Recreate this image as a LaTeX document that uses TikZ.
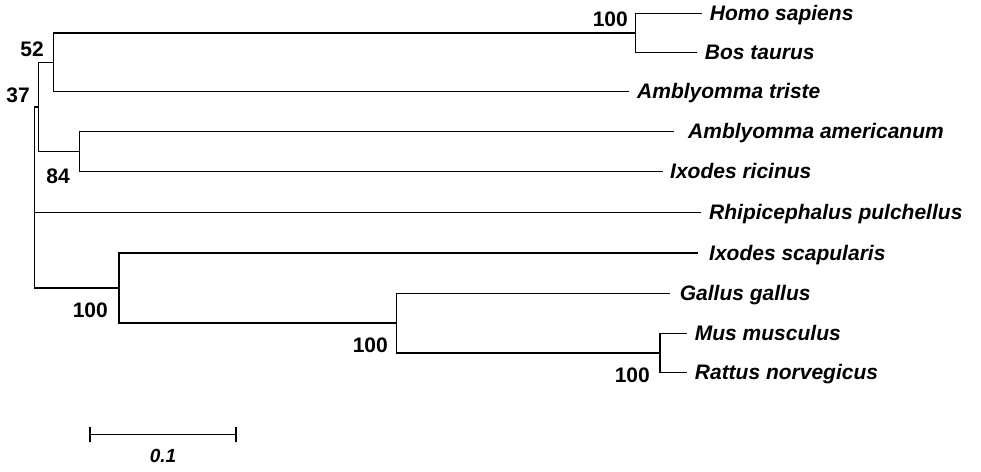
\documentclass[tikz,border=0pt]{standalone}
\usepackage{fontspec}
\setmainfont{Liberation Sans}
\usetikzlibrary{positioning}

\tikzset{
  branch/.style={line width=1.4pt, line cap=rect},
  taxon/.style={anchor=base west, inner sep=0pt, font=\fontsize{21}{24}\selectfont\bfseries\itshape},
  boot/.style={anchor=base east, inner sep=0pt, font=\fontsize{21}{24}\selectfont\bfseries},
}

\begin{document}
\begin{tikzpicture}[x=1pt,y=-1pt]
  \useasboundingbox (0,0) rectangle (981,471);

  % leaf tips
  \coordinate (homo) at (701.7,13.3);
  \coordinate (bos) at (696.7,52.3);
  \coordinate (triste) at (628,91.7);
  \coordinate (americanum) at (673,131.7);
  \coordinate (ricinus) at (662,171.7);
  \coordinate (rhipi) at (700,212.7);
  \coordinate (scapularis) at (697,253);
  \coordinate (gallus) at (669.6,293.3);
  \coordinate (mus) at (686.7,333.3);
  \coordinate (rattus) at (686.7,372.3);

  % inner nodes
  \coordinate (n1) at (635.7,32.8);
  \coordinate (n2) at (53.3,62.3);
  \coordinate (n3) at (79.3,151.7);
  \coordinate (n4) at (38.3,107);
  \coordinate (n5) at (660,352.8);
  \coordinate (n6) at (396.7,323);
  \coordinate (n7) at (119,288);
  \coordinate (root) at (34.5,200);

  % branches
  \draw[branch] (n1) |- (homo) (n1) |- (bos);
  \draw[branch] (n2) |- (n1) (n2) |- (triste);
  \draw[branch] (n3) |- (americanum) (n3) |- (ricinus);
  \draw[branch] (n4) |- (n2) (n4) |- (n3);
  \draw[branch] (n5) |- (mus) (n5) |- (rattus);
  \draw[branch] (n6) |- (gallus) (n6) |- (n5);
  \draw[branch] (n7) |- (scapularis) (n7) |- (n6);
  \draw[branch] (root) |- (n4) (root) |- (rhipi) (root) |- (n7);

  % taxon names
  \node[taxon] (tHomo) at ([xshift=8pt,yshift=-7pt]homo) {Homo sapiens};
  \node[taxon] (tBos) at ([xshift=8pt,yshift=-7pt]bos) {Bos taurus};
  \node[taxon] (tTriste) at ([xshift=9pt,yshift=-7pt]triste) {Amblyomma triste};
  \node[taxon] (tAmer) at ([xshift=15pt,yshift=-7pt]americanum) {Amblyomma americanum};
  \node[taxon] (tRicinus) at ([xshift=8pt,yshift=-7pt]ricinus) {Ixodes ricinus};
  \node[taxon] (tRhipi) at ([xshift=9pt,yshift=-7pt]rhipi) {Rhipicephalus pulchellus};
  \node[taxon] (tScap) at ([xshift=12pt,yshift=-7pt]scapularis) {Ixodes scapularis};
  \node[taxon] (tGallus) at ([xshift=10pt,yshift=-7pt]gallus) {Gallus gallus};
  \node[taxon] (tMus) at ([xshift=8pt,yshift=-7pt]mus) {Mus musculus};
  \node[taxon] (tRattus) at ([xshift=8pt,yshift=-7pt]rattus) {Rattus norvegicus};

  % bootstrap values
  \node[boot] (b1) at (628,26.7) {100};
  \node[boot] (b2) at (44,56) {52};
  \node[boot] (b3) at (30,102) {37};
  \node[boot] (b4) at (70,183) {84};
  \node[boot] (b5) at (108,317) {100};
  \node[boot] (b6) at (388,352) {100};
  \node[boot] (b7) at (650,382) {100};

  % scale bar
  \coordinate (sbL) at (90,434.3);
  \coordinate (sbR) at (236,434.3);
  \draw[branch, line cap=butt] (sbL) -- (sbR);
  \draw[branch, line cap=butt] ([yshift=7.5pt]sbL) -- ([yshift=-7.5pt]sbL);
  \draw[branch, line cap=butt] ([yshift=7.5pt]sbR) -- ([yshift=-7.5pt]sbR);
  \node[anchor=base, inner sep=0pt, font=\fontsize{19}{22}\selectfont\bfseries\itshape] (sbText) at (163,462) {0.1};
\end{tikzpicture}
\end{document}
